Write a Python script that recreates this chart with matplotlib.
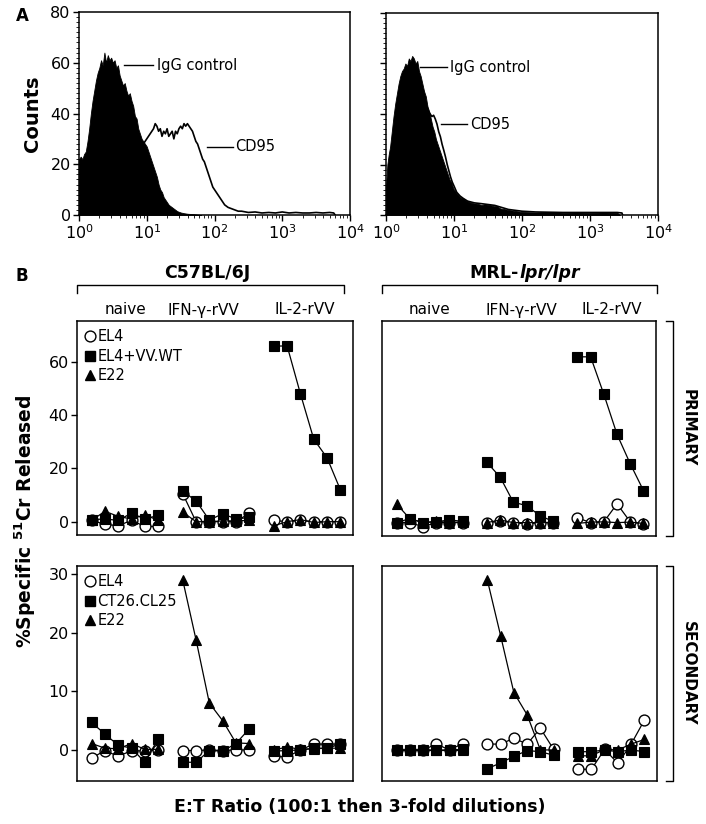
import numpy as np
import matplotlib
matplotlib.use("Agg")
import matplotlib.pyplot as plt
from matplotlib.lines import Line2D
from matplotlib.ticker import FixedLocator, NullFormatter, LogLocator

plt.rcParams['font.family'] = ['DejaVu Sans']
plt.rcParams['mathtext.fontset'] = 'dejavusans'

# ---------------- Panel A data (log10 fluorescence, counts) ----------------
wt_igg_log = [0.000, 0.025, 0.050, 0.075, 0.100, 0.125, 0.150, 0.175, 0.200, 0.225,
              0.250, 0.275, 0.300, 0.325, 0.350, 0.375, 0.400, 0.425, 0.450, 0.475,
              0.500, 0.525, 0.550, 0.575, 0.600, 0.625, 0.650, 0.675, 0.700, 0.725,
              0.750, 0.775, 0.800, 0.825, 0.850, 0.875, 0.900, 0.925, 0.950, 0.975,
              1.000, 1.025, 1.050, 1.075, 1.100, 1.125, 1.150, 1.175, 1.200, 1.225,
              1.250, 1.275, 1.300, 1.325, 1.350, 1.375, 1.400, 1.425, 1.450, 1.500,
              1.550, 1.600, 1.700, 1.800]
wt_igg_cnt = [22, 23, 22, 24, 25, 29, 34, 40, 45, 49,
              53, 56, 58, 61, 59, 64, 60, 63, 61, 62,
              60, 61, 58, 59, 55, 53, 51, 52, 49, 47,
              48, 45, 43, 39, 38, 34, 32, 30, 29, 28,
              27, 25, 23, 21, 19, 17, 15, 12, 10, 9,
              7, 6, 5, 4, 3.5, 3, 2.5, 2, 1.5, 1,
              0.7, 0.5, 0.3, 0]
wt_cd95_log = [0.900, 0.950, 1.000, 1.050, 1.100, 1.125, 1.150, 1.175, 1.200, 1.225,
               1.250, 1.275, 1.300, 1.325, 1.350, 1.375, 1.400, 1.425, 1.450, 1.475,
               1.500, 1.525, 1.550, 1.575, 1.600, 1.625, 1.650, 1.675, 1.700, 1.725,
               1.750, 1.775, 1.800, 1.825, 1.850, 1.875, 1.900, 1.925, 1.950, 1.975,
               2.000, 2.025, 2.050, 2.075, 2.100, 2.125, 2.150, 2.175, 2.200, 2.250,
               2.300, 2.350, 2.400, 2.500, 2.600, 2.700, 2.800, 2.900, 3.000, 3.100,
               3.200, 3.300, 3.400, 3.500, 3.600, 3.700, 3.760, 3.780]
wt_cd95_cnt = [30, 28, 30, 32, 34, 36, 35, 33, 34, 31,
               33, 32, 34, 31, 32, 33, 30, 33, 32, 34,
               35, 34, 36, 35, 36, 35, 34, 33, 31, 29,
               28, 26, 24, 22, 21, 19, 17, 15, 13, 11,
               10, 9, 8, 7, 6, 5, 4, 3.5, 3, 2.5,
               2, 1.5, 1.5, 1, 1.2, 0.8, 1, 0.8, 1.2, 0.8,
               1, 0.8, 0.8, 1, 0.8, 1, 0.8, 0]

lpr_igg_log = [0.000, 0.020, 0.040, 0.060, 0.085, 0.110, 0.135, 0.160, 0.185, 0.210,
               0.235, 0.260, 0.285, 0.310, 0.335, 0.360, 0.385, 0.410, 0.435, 0.460,
               0.485, 0.510, 0.535, 0.560, 0.585, 0.610, 0.635, 0.660, 0.685, 0.710,
               0.735, 0.760, 0.785, 0.810, 0.835, 0.860, 0.885, 0.910, 0.935, 0.960,
               0.990, 1.040, 1.090, 1.140, 1.190, 1.240, 1.290, 1.340, 1.400, 1.450,
               1.530, 1.580, 1.630, 1.680, 1.730, 1.800, 1.900, 2.000, 2.200, 2.400,
               2.600, 2.800, 3.000, 3.200, 3.400, 3.440]
lpr_igg_cnt = [11, 20, 24, 27, 33, 39, 44, 48, 52, 55,
               57, 58, 60, 59, 62, 61, 63, 62, 60, 61,
               57, 55, 52, 49, 47, 43, 41, 38, 35, 33,
               30, 28, 26, 24, 22, 20, 18, 16, 14, 13,
               10.5, 8.5, 7, 6.5, 5.5, 5, 4.6, 4.5, 4, 4.2,
               4, 3.5, 3.5, 2.6, 2.4, 2, 1.6, 1.2, 1, 1.2,
               0.9, 1, 0.9, 1, 0.9, 0]
lpr_cd95_log = [0.550, 0.575, 0.600, 0.625, 0.650, 0.675, 0.700, 0.725, 0.750, 0.775,
                0.800, 0.825, 0.850, 0.875, 0.900, 0.925, 0.950, 0.975, 1.000, 1.040,
                1.090, 1.140, 1.200, 1.300, 1.400, 1.600, 1.800, 2.000, 2.200, 2.400,
                2.600, 2.800, 3.000, 3.200, 3.400, 3.470, 3.480]
lpr_cd95_cnt = [49, 45, 43, 41, 40, 39, 39.5, 38, 36, 33,
                31, 28, 25.6, 23, 20, 17.5, 15, 13, 11.5, 9,
                7.5, 6.5, 5.5, 4.8, 4.5, 3.8, 2.2, 1.5, 1.2, 1.1,
                1, 1, 1, 1, 1, 0.8, 0]

# ---------------- Panel B data (% specific 51Cr release) ----------------
groups = ['naive', 'IFN-γ-rVV', 'IL-2-rVV']
strains = ['C57BL/6J', 'MRL-lpr/lpr']

c57_pri_el4 = [0.5, -1, -1.5, 0.5, -1.8, -1.8,   10.5, 0, 0, 0, 0, 3.2,     0.5, 0, 0.5, 0, 0, 0]
c57_pri_vv  = [0.8, 1.0, 0.5, 3.2, 1.0, 2.4,     11.5, 7.8, 0.6, 3.0, 1.0, 1.6,  66, 66, 48, 31, 24, 12]
c57_pri_e22 = [0.5, 3.9, 2.0, 1.0, 2.6, 0.5,     3.6, 0, 0, 0.3, 0.3, 0.5,  -1.5, 0, 0.8, -0.3, 0, 0]

mrl_pri_el4 = [0, 0, -1.5, 0, 0, 0,              0, 0.5, 0, -0.5, 0, 0,     1.8, 0, 0.3, 7, 0.3, -0.5]
mrl_pri_vv  = [0, 1.5, 0, 0.3, 1.0, 0.5,         22.5, 17, 7.6, 6.4, 2.6, 0.5,  62, 62, 48, 33, 22, 12]
mrl_pri_e22 = [7, 1.5, 0, 0.5, 0, 0.3,           0, 1, 0, 0, 0, 0,          -0.3, 0.2, 0.3, 0, 0.2, -0.3]

c57_sec_el4  = [-1.4, -0.1, -1.1, -0.1, -0.2, 0,  -0.1, -0.1, 0, -0.1, 0, 0,   -1.1, -1.2, 0, 1.0, 1.0, 1.0]
c57_sec_ct26 = [4.7, 2.7, 0.8, 0.3, -2.1, 1.9,    -2.1, -2.1, -0.1, -0.2, 1.1, 3.6,  -0.2, -0.1, 0, 0.3, 0.3, 1.0]
c57_sec_e22  = [1.1, 0.3, 0.2, 1.1, 0.1, 0.1,     29, 18.8, 8, 5, 1.2, 1.1,    0, 0.5, 0.1, 0.2, 0.3, 0.3]

mrl_sec_el4  = [0, 0, 0, 1.0, 0, 1.1,             1.0, 1.0, 2.0, 1.0, 3.7, 0.1,  -3.3, -3.3, 0.1, -2.3, 1.0, 5.1]
mrl_sec_ct26 = [0, 0, 0, 0, 0, 0.1,               -3.2, -2.2, -1.1, -0.1, -0.3, -0.9,  -0.3, -0.3, 0, -0.3, 0, -0.3]
mrl_sec_e22  = [0, 0, 0, 0, 0, 0,                 29, 19.5, 9.8, 6, 0, 0,      -1.0, -1.0, 0.1, 0, 1.0, 1.8]

primary_labels = ['EL4', 'EL4+VV.WT', 'E22']
secondary_labels = ['EL4', 'CT26.CL25', 'E22']
primary_yticks = [0, 20, 40, 60]
secondary_yticks = [0, 10, 20, 30]

# ---------------- figure ----------------
W, H = 706, 824
fig = plt.figure(figsize=(W / 100, H / 100), dpi=100)


def ax_px(x0, y0, x1, y1):
    return fig.add_axes([x0 / W, 1 - y1 / H, (x1 - x0) / W, (y1 - y0) / H])


def fx(x):
    return x / W


def fy(y):
    return 1 - y / H


TICK_FS = 11.5
LW = 1.1

# ---- Panel A ----
def hist_panel(ax, flog, fcnt, olog, ocnt, show_ylabels):
    ax.fill_between(10 ** np.array(flog), fcnt, color='black', lw=0.6, edgecolor='black', zorder=2)
    ax.plot(10 ** np.array(olog), ocnt, color='black', lw=1.2, zorder=3)
    ax.set_xscale('log')
    ax.set_xlim(1, 1e4)
    ax.set_ylim(0, 80)
    ax.set_xticks([1, 10, 100, 1000, 10000])
    ax.set_xticklabels([r'$10^{0}$', r'$10^{1}$', r'$10^{2}$', r'$10^{3}$', r'$10^{4}$'])
    ax.xaxis.set_minor_locator(LogLocator(base=10, subs=np.arange(2, 10)))
    ax.xaxis.set_minor_formatter(NullFormatter())
    ax.set_yticks([0, 20, 40, 60, 80])
    ax.yaxis.set_minor_locator(FixedLocator(list(range(0, 81, 2))))
    if not show_ylabels:
        ax.set_yticklabels([])
    ax.tick_params(axis='both', which='major', direction='out', length=4, width=1,
                   labelsize=TICK_FS, pad=2)
    ax.tick_params(axis='both', which='minor', direction='out', length=2, width=0.6)
    for s in ax.spines.values():
        s.set_linewidth(LW)


axA1 = ax_px(79, 12, 350, 215)
hist_panel(axA1, wt_igg_log, wt_igg_cnt, wt_cd95_log, wt_cd95_cnt, True)
axA1.set_ylabel('Counts', fontsize=14, fontweight='bold', labelpad=6)
axA1.plot([4.6, 12.5], [59, 59], color='black', lw=1)
axA1.text(14, 59, 'IgG control', fontsize=10.5, va='center', ha='left')
axA1.plot([78, 187], [26.8, 26.8], color='black', lw=1)
axA1.text(205, 26.8, 'CD95', fontsize=10.5, va='center', ha='left')

axA2 = ax_px(386, 13, 658, 215)
hist_panel(axA2, lpr_igg_log, lpr_igg_cnt, lpr_cd95_log, lpr_cd95_cnt, False)
axA2.plot([3.2, 7.9], [58.6, 58.6], color='black', lw=1)
axA2.text(8.8, 58.6, 'IgG control', fontsize=10.5, va='center', ha='left')
axA2.plot([6.4, 15.5], [36, 36], color='black', lw=1)
axA2.text(17, 36, 'CD95', fontsize=10.5, va='center', ha='left')

fig.text(fx(22), fy(16), 'A', fontsize=12, fontweight='bold', ha='center', va='center')
fig.text(fx(22), fy(276), 'B', fontsize=12, fontweight='bold', ha='center', va='center')

# ---- Panel B ----
group_offsets = [0, 6.85, 13.7]
points_per_group = 6


def cyto_panel(ax, el4, mid, e22, ylim, yticks, show_y, labels, legend):
    styles = [
        (el4, dict(marker='o', mfc='white', mec='black', ms=7.8, mew=1.0), 2),
        (mid, dict(marker='s', mfc='black', mec='black', ms=7.0, mew=0.8), 3),
        (e22, dict(marker='^', mfc='black', mec='black', ms=7.8, mew=0.8), 4),
    ]
    for vals, st, z in styles:
        for g, off in enumerate(group_offsets):
            xs = [off + i for i in range(points_per_group)]
            ys = vals[g * points_per_group:(g + 1) * points_per_group]
            ax.plot(xs, ys, color='black', lw=0.9, zorder=z, **st)
    ax.set_xlim(-1.1, 19.65)
    ax.set_ylim(*ylim)
    ax.set_xticks([])
    ax.set_yticks(yticks)
    if show_y:
        ax.tick_params(axis='y', direction='out', length=4, width=1, labelsize=TICK_FS, pad=2)
    else:
        ax.tick_params(axis='y', length=0, labelleft=False)
    for s in ax.spines.values():
        s.set_linewidth(LW)
    if legend:
        handles = [
            Line2D([], [], ls='none', marker='o', mfc='white', mec='black', ms=7.8, mew=1.0),
            Line2D([], [], ls='none', marker='s', mfc='black', mec='black', ms=7.0),
            Line2D([], [], ls='none', marker='^', mfc='black', mec='black', ms=7.8),
        ]
        ax.legend(handles, labels, loc='upper left', frameon=False, fontsize=10.5,
                  handlelength=0.7, handletextpad=0.15, labelspacing=0.32,
                  borderaxespad=0.15, borderpad=0.4)


top_ylim = (-5, 75.4)
bot_ylim = (-5.3, 31.4)

axB1 = ax_px(77, 321, 353, 535)
cyto_panel(axB1, c57_pri_el4, c57_pri_vv, c57_pri_e22, top_ylim, primary_yticks, True,
           primary_labels, True)
axB2 = ax_px(382, 321, 656, 536)
cyto_panel(axB2, mrl_pri_el4, mrl_pri_vv, mrl_pri_e22, top_ylim, primary_yticks, False,
           primary_labels, False)
axB3 = ax_px(77, 566, 353, 781)
cyto_panel(axB3, c57_sec_el4, c57_sec_ct26, c57_sec_e22, bot_ylim, secondary_yticks, True,
           secondary_labels, True)
axB4 = ax_px(382, 566, 657, 781)
cyto_panel(axB4, mrl_sec_el4, mrl_sec_ct26, mrl_sec_e22, bot_ylim, secondary_yticks, False,
           secondary_labels, False)

# group labels
for ax, centers in ((axB1, [126, 203, 305]), (axB2, [429, 521, 612])):
    for lab, cx in zip(groups, centers):
        fig.text(fx(cx), fy(310), lab, fontsize=11, ha='center', va='center')

# strain brackets and titles
def top_bracket(x0, x1, y=285, drop=8):
    fig.add_artist(Line2D([fx(x0), fx(x0), fx(x1), fx(x1)],
                          [fy(y + drop), fy(y), fy(y), fy(y + drop)],
                          color='black', lw=1.0))


top_bracket(77, 344)
top_bracket(382, 657)
fig.text(fx(207), fy(273), strains[0], fontsize=12.5, fontweight='bold', ha='center', va='center')
fig.text(fx(519), fy(273), 'MRL-', fontsize=12.5, fontweight='bold', ha='right', va='center')
fig.text(fx(519), fy(273), 'lpr/lpr', fontsize=12.5, fontweight='bold', style='italic',
         ha='left', va='center')


def side_bracket(y0, y1, x=673, drop=7):
    fig.add_artist(Line2D([fx(x - drop), fx(x), fx(x), fx(x - drop)],
                          [fy(y0), fy(y0), fy(y1), fy(y1)], color='black', lw=1.0))


side_bracket(321, 536)
side_bracket(566, 781)
fig.text(fx(688), fy(428), 'PRIMARY', fontsize=11, fontweight='bold', rotation=-90,
         ha='center', va='center')
fig.text(fx(688), fy(673), 'SECONDARY', fontsize=11, fontweight='bold', rotation=-90,
         ha='center', va='center')

fig.text(fx(25), fy(521), r'%Specific $^{\mathbf{51}}$Cr Released', fontsize=13.5,
         fontweight='bold', rotation=90, ha='center', va='center')
fig.text(fx(360), fy(807), 'E:T Ratio (100:1 then 3-fold dilutions)', fontsize=12.5,
         fontweight='bold', ha='center', va='center')

fig.savefig('out.png', dpi=100)
